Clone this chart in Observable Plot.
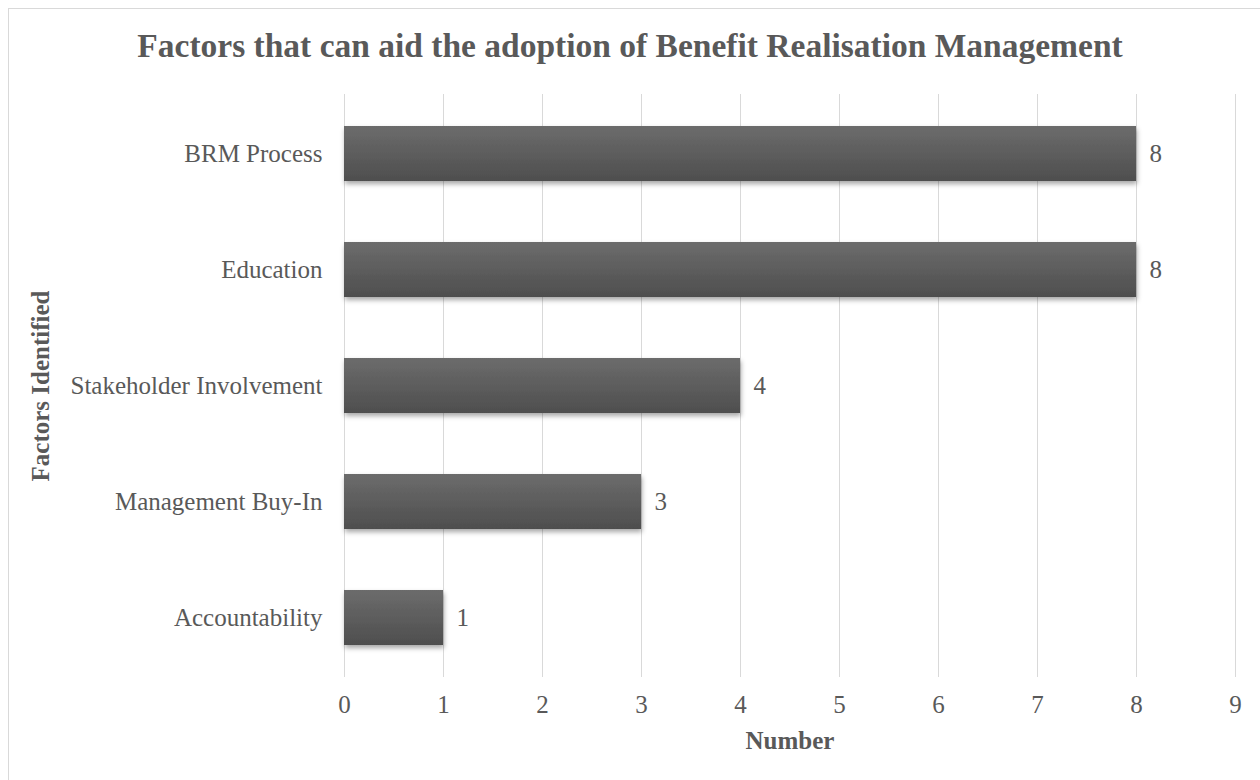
<!DOCTYPE html>
<html>
<head>
<meta charset="utf-8">
<script src="https://cdn.jsdelivr.net/npm/d3@7"></script>
<script src="https://cdn.jsdelivr.net/npm/@observablehq/plot@0.6"></script>
<style>
  html, body { margin: 0; padding: 0; background: #fff; overflow: hidden; }
  #wrap { position: relative; width: 1260px; height: 780px; overflow: hidden; }
  #frame { position: absolute; left: 8px; top: 8px; width: 1400px; height: 900px;
           border-left: 1px solid #d9d9d9; border-top: 1px solid #d9d9d9; }
  #title { position: absolute; left: 0; width: 1260px; top: 28px; height: 40px; line-height: 36px;
           text-align: center; font-family: "Liberation Serif", serif; font-weight: bold;
           font-size: 33.5px; color: #595959; white-space: nowrap; }
  #chart { position: absolute; left: 0; top: 80px; }
</style>
</head>
<body>
<div id="wrap">
  <div id="frame"></div>
  <div id="title">Factors that can aid the adoption of Benefit Realisation Management</div>
  <div id="chart"></div>
</div>
<script>
const categories = ["BRM Process", "Education", "Stakeholder Involvement", "Management Buy-In", "Accountability"];
const counts = [8, 8, 4, 3, 1];
const xTicks = [0, 1, 2, 3, 4, 5, 6, 7, 8, 9];
const xTitle = "Number";
const yTitle = "Factors Identified";

const data = categories.map((c, i) => ({factor: c, n: counts[i]}));
const textColor = "#595959";
const fs = 25;

const plot = Plot.plot({
  width: 1260,
  height: 700,
  marginTop: 14,
  marginBottom: 103,
  marginLeft: 344,
  marginRight: 25,
  style: {fontFamily: "'Liberation Serif', serif", fontSize: fs + "px", color: textColor, background: "transparent"},
  x: {domain: [0, 9], ticks: xTicks},
  y: {domain: categories, paddingInner: 0.53, paddingOuter: 0.265},
  marks: [
    Plot.gridX(xTicks, {stroke: "#d9d9d9", strokeOpacity: 1, strokeWidth: 1}),
    Plot.barX(data, {x: "n", y: "factor", fill: "url(#barGrad)"}),
    Plot.text(data, {x: "n", y: "factor", text: d => String(d.n), dx: 13, textAnchor: "start", fill: textColor, fontSize: fs}),
    Plot.axisX(xTicks, {tickSize: 0, tickPadding: 18, label: null, fill: textColor, fontSize: fs}),
    Plot.axisY({tickSize: 0, tickPadding: 22, label: null, fill: textColor, fontSize: fs}),
    Plot.text([xTitle], {frameAnchor: "bottom", dy: 71, textAnchor: "middle", fontWeight: "bold", fill: textColor, fontSize: fs}),
    Plot.text([yTitle], {frameAnchor: "left", dx: -304, rotate: -90, textAnchor: "middle", fontWeight: "bold", fill: textColor, fontSize: fs})
  ]
});

const svg = d3.select(plot);
const defs = svg.insert("defs", ":first-child");
const grad = defs.append("linearGradient").attr("id", "barGrad").attr("x1", 0).attr("y1", 0).attr("x2", 0).attr("y2", 1);
grad.append("stop").attr("offset", "0%").attr("stop-color", "#6c6c6c");
grad.append("stop").attr("offset", "100%").attr("stop-color", "#4e4e4e");
const filt = defs.append("filter").attr("id", "barShadow").attr("x", "-5%").attr("y", "-20%").attr("width", "115%").attr("height", "150%");
filt.append("feDropShadow").attr("dx", 1).attr("dy", 3).attr("stdDeviation", 2.5).attr("flood-color", "#000").attr("flood-opacity", 0.35);
svg.selectAll("g[aria-label='bar'] rect").attr("filter", "url(#barShadow)");

document.getElementById("chart").appendChild(plot);
</script>
</body>
</html>
